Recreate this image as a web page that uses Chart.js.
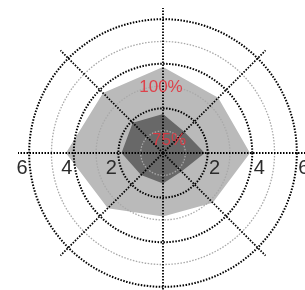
<!DOCTYPE html>
<html>
<head>
<meta charset="utf-8">
<script src="https://cdn.jsdelivr.net/npm/chart.js@4/dist/chart.umd.min.js"></script>
<style>
  html, body { margin: 0; padding: 0; background: #fff; overflow: hidden; }
  #wrap { position: absolute; left: 0; top: 0; width: 340px; height: 310px; }
</style>
</head>
<body>
<div id="wrap"><canvas id="c" width="340" height="310"></canvas></div>
<script>
// ---- data ----
const categories = ['', '', '', '', '', '', '', ''];          // 8 spokes, clockwise from top
const outerValues = [3.85, 3.5, 3.9, 3.15, 2.85, 3.5, 4.35, 3.8]; // light grey area ("100%")
const innerValues = [1.75, 1.35, 1.87, 1.17, 1.37, 1.39, 1.86, 1.92]; // dark grey area ("75%")
const tickLabels = ['2', '4', '6'];
const tickValues = [2, 4, 6];
const seriesNames = ['100%', '75%'];

const labelPlugin = {
  id: 'labels',
  afterDraw(chart) {
    const s = chart.scales.r;
    const ctx = chart.ctx;
    ctx.save();
    ctx.font = '20px "Liberation Sans", Arial, sans-serif';
    ctx.fillStyle = '#2b2b2b';
    ctx.textAlign = 'center';
    ctx.textBaseline = 'middle';
    tickValues.forEach((v, i) => {
      const r = s.getDistanceFromCenterForValue(v);
      ctx.fillText(tickLabels[i], s.xCenter - r - 7, s.yCenter + 15);
      ctx.fillText(tickLabels[i], s.xCenter + r + 7, s.yCenter + 15);
    });
    ctx.font = '17px "Liberation Sans", Arial, sans-serif';
    ctx.fillStyle = 'rgba(225,55,65,0.92)';
    const p1 = s.getPointPositionForValue(0, 2.95);
    ctx.fillText(seriesNames[0], p1.x - 2, p1.y);
    const p2 = s.getPointPositionForValue(0, 0.55);
    ctx.fillText(seriesNames[1], p2.x + 6, p2.y);
    ctx.restore();
  }
};

new Chart(document.getElementById('c'), {
  type: 'radar',
  data: {
    labels: categories,
    datasets: [
      { label: seriesNames[0], data: outerValues, backgroundColor: '#bababa', borderWidth: 0, pointRadius: 0, fill: true, order: 2 },
      { label: seriesNames[1], data: innerValues, backgroundColor: '#686868', borderWidth: 0, pointRadius: 0, fill: true, order: 1 }
    ]
  },
  options: {
    responsive: false,
    animation: false,
    events: [],
    layout: { padding: { left: 18, top: 8, right: 32, bottom: 12 } },
    plugins: { legend: { display: false }, tooltip: { enabled: false } },
    elements: { line: { tension: 0 } },
    scales: {
      r: {
        min: 0,
        max: 6.5,
        bounds: 'data',
        ticks: { stepSize: 1, display: false },
        pointLabels: { display: false },
        grid: {
          circular: true,
          z: 1,
          color: (ctx) => {
            const v = ctx.tick ? ctx.tick.value : 0;
            if (!Number.isInteger(v)) return 'rgba(0,0,0,0)';
            return v % 2 === 0 ? '#000' : '#a8a8a8';
          },
          lineWidth: (ctx) => {
            const v = ctx.tick ? ctx.tick.value : 0;
            return v % 2 === 0 ? 2 : 1.3;
          }
        },
        border: { dash: [1.5, 1.5] },
        angleLines: { display: true, color: '#000', lineWidth: 1.8, borderDash: [1.5, 1.5] }
      }
    }
  },
  plugins: [labelPlugin]
});
</script>
</body>
</html>
